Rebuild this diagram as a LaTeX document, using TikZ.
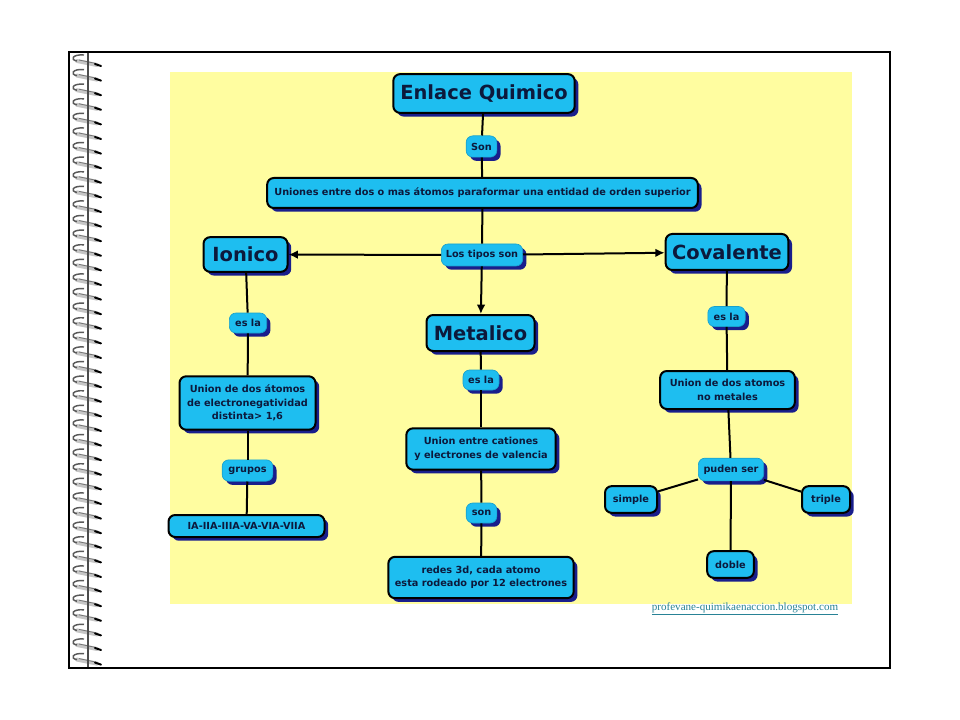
\documentclass[tikz,border=0pt]{standalone}
\usepackage{fontspec}
\setmainfont{DejaVu Sans}
\newfontfamily\urlfont{Liberation Serif}
\usetikzlibrary{shadows,arrows.meta}

\definecolor{pageyellow}{RGB}{255,253,160}
\definecolor{boxcyan}{RGB}{30,190,240}
\definecolor{boxshadow}{RGB}{25,30,140}
\definecolor{textnavy}{RGB}{12,25,60}
\definecolor{urlteal}{RGB}{40,130,150}

\tikzset{
  concept/.style={draw=black, line width=1.5pt, fill=boxcyan, rounded corners=5pt,
    text=textnavy, align=center, inner sep=0pt,
    font=\bfseries\fontsize{7.3}{10}\selectfont,
    drop shadow={shadow xshift=2.8pt, shadow yshift=-2.8pt, fill=boxshadow, opacity=1}},
  bigconcept/.style={concept, font=\bfseries\fontsize{14.6}{17}\selectfont},
  linkbox/.style={concept, draw=boxcyan!85!black, line width=0.5pt},
  conn/.style={line width=1.5pt},
  connarrow/.style={conn, -{Latex[length=7pt,width=6.5pt]}}
}

\begin{document}
\begin{tikzpicture}[x=0.75pt, y=-0.75pt]
      \useasboundingbox (0,0) rectangle (960,720);
      \fill[white] (0,0) rectangle (960,720);
      \draw[line width=0.9pt] (69,52) rectangle (890,668); %draw page
      \fill[pageyellow] (170,72) rectangle (852,604);

      %draw spiral binding
      \foreach \i in {0,...,41}{
        \pgfmathsetmacro\yy{60+14.6*\i}
        \draw[gray!45, line width=3pt, line cap=round] (77,\yy+1) -- (97,\yy+5);
        \draw[black!55, line width=0.6pt] (79,\yy) -- (96,\yy+3.5);
        \draw[black!65, line width=1.1pt] (84,\yy-5) .. controls (72,\yy-6) and (70,\yy) .. (77,\yy+1);
        \draw[black!70, line width=0.9pt] (88,\yy-7) -- (88,\yy+8);
        \draw[black, line width=1.5pt, line cap=round] (95,\yy+4) -- (101,\yy+6);
      }

      %draw concepts
      \node[bigconcept, minimum width=136pt, minimum height=29pt] (enlace) at (484,93.5) {Enlace Quimico};
      \node[linkbox, minimum width=23pt, minimum height=16pt] (son) at (481.5,146.5) {Son};
      \node[concept, minimum width=323pt, minimum height=22.5pt] (uniones) at (482.5,193) {Uniones entre dos o mas átomos paraformar una entidad de orden superior};
      \node[bigconcept, minimum width=63pt, minimum height=26pt] (ionico) at (245.5,254.5) {Ionico};
      \node[linkbox, minimum width=61pt, minimum height=16.5pt] (tipos) at (482,255) {Los tipos son};
      \node[bigconcept, minimum width=92pt, minimum height=27pt] (covalente) at (727,252) {Covalente};
      \node[bigconcept, minimum width=81pt, minimum height=27pt] (metalico) at (480.5,333) {Metalico};

      \node[linkbox, minimum width=28pt, minimum height=15pt] (esla1) at (248,323) {es la};
      \node[concept, minimum width=102pt, minimum height=40pt] (unionion) at (247.5,403) {Union de dos átomos\\de electronegatividad\\distinta> 1,6};
      \node[linkbox, minimum width=38pt, minimum height=16pt] (grupos) at (247.5,470.5) {grupos};
      \node[concept, minimum width=117pt, minimum height=16.5pt] (grupoIA) at (246.5,526) {IA-IIA-IIIA-VA-VIA-VIIA};

      \node[linkbox, minimum width=27pt, minimum height=15pt] (esla2) at (481,380) {es la};
      \node[concept, minimum width=112pt, minimum height=31pt] (unionmet) at (481,449) {Union entre cationes\\y electrones de valencia};
      \node[linkbox, minimum width=23pt, minimum height=15pt] (sonmet) at (481.5,513) {son};
      \node[concept, minimum width=139pt, minimum height=31pt] (redes) at (481,577.5) {redes 3d, cada atomo\\esta rodeado por 12 electrones};

      \node[linkbox, minimum width=28pt, minimum height=15pt] (esla3) at (726.5,316.5) {es la};
      \node[concept, minimum width=101pt, minimum height=28.5pt] (unioncov) at (727.5,390) {Union de dos atomos\\no metales};
      \node[linkbox, minimum width=49pt, minimum height=17pt] (puden) at (731,469.5) {puden ser};
      \node[concept, minimum width=39pt, minimum height=20pt] (simple) at (631,499.5) {simple};
      \node[concept, minimum width=36pt, minimum height=20pt] (triple) at (826,499.5) {triple};
      \node[concept, minimum width=35pt, minimum height=20pt] (doble) at (730.5,564.5) {doble};

      %draw connectors
      \draw[conn] (enlace) -- (son);
      \draw[conn] (son) -- (uniones);
      \draw[conn] (uniones) -- (tipos);
      \draw[connarrow] (tipos) -- (ionico);
      \draw[connarrow] (tipos) -- (covalente);
      \draw[connarrow] (tipos) -- (metalico);
      \draw[conn] (ionico) -- (esla1);
      \draw[conn] (esla1) -- (unionion);
      \draw[conn] (unionion) -- (grupos);
      \draw[conn] (grupos) -- (grupoIA);
      \draw[conn] (metalico) -- (esla2);
      \draw[conn] (esla2) -- (unionmet);
      \draw[conn] (unionmet) -- (sonmet);
      \draw[conn] (sonmet) -- (redes);
      \draw[conn] (covalente) -- (esla3);
      \draw[conn] (esla3) -- (unioncov);
      \draw[conn] (unioncov) -- (puden);
      \draw[conn] (puden) -- (simple);
      \draw[conn] (puden) -- (triple);
      \draw[conn] (puden) -- (doble);

      %draw url
      \node[font=\urlfont\fontsize{8.3}{10}\selectfont, text=urlteal] (url) at (745,609) {\underline{profevane-quimikaenaccion.blogspot.com}};
    \end{tikzpicture}
\end{document}
